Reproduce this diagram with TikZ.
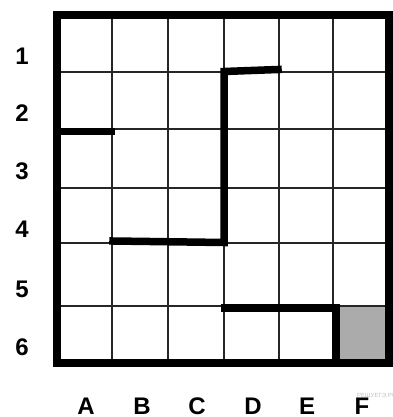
\documentclass[tikz,border=0pt]{standalone}
\usepackage{fontspec}
\setmainfont{Liberation Sans}
\begin{document}
\begin{tikzpicture}[x=1pt,y=-1pt,
  thin grid/.style={line width=1.5pt, draw=black!85},
  thick wall/.style={line width=7.5pt, draw=black, line cap=rect},
  frame/.style={line width=7.5pt, draw=black},
  lab/.style={font=\fontsize{24}{24}\selectfont\bfseries, inner sep=0pt, anchor=center}]
\useasboundingbox (0,0) rectangle (392,417);
% gray cell F6
\fill[black!33] (333,306) rectangle (389,363);
% thin grid
\foreach \x in {112,168,224,279,333} \draw[thin grid] (\x,15) -- (\x,363);
\foreach \y in {72,129,188,243,306} \draw[thin grid] (57,\y) -- (389,\y);
% thick walls
\draw[thick wall] (57,131.5) -- (111,131.5);
\draw[thick wall] (278,69.5) -- (224,71.5) -- (224,242.5) -- (113,241);
\draw[thick wall] (225,308) -- (336,308) -- (336,363);
% outer frame
\draw[frame] (57,15) rectangle (389,363);
% row labels
\node[lab] (r1) at (22,56) {1};
\node[lab] (r2) at (22,113) {2};
\node[lab] (r3) at (22,171) {3};
\node[lab] (r4) at (22,229) {4};
\node[lab] (r5) at (22,289) {5};
\node[lab] (r6) at (22,347.5) {6};
% column labels
\node[lab] (cA) at (86,406.5) {A};
\node[lab] (cB) at (142,406.5) {B};
\node[lab] (cC) at (197,406.5) {C};
\node[lab] (cD) at (253,406.5) {D};
\node[lab] (cE) at (307,406.5) {E};
\node[lab] (cF) at (362,406.5) {F};
% watermark
\node[font=\fontsize{6}{6}\selectfont, text=black!25, anchor=west, inner sep=0pt] (wm) at (357,395) {РЕШУЕГЭ.РФ};
\end{tikzpicture}
\end{document}
